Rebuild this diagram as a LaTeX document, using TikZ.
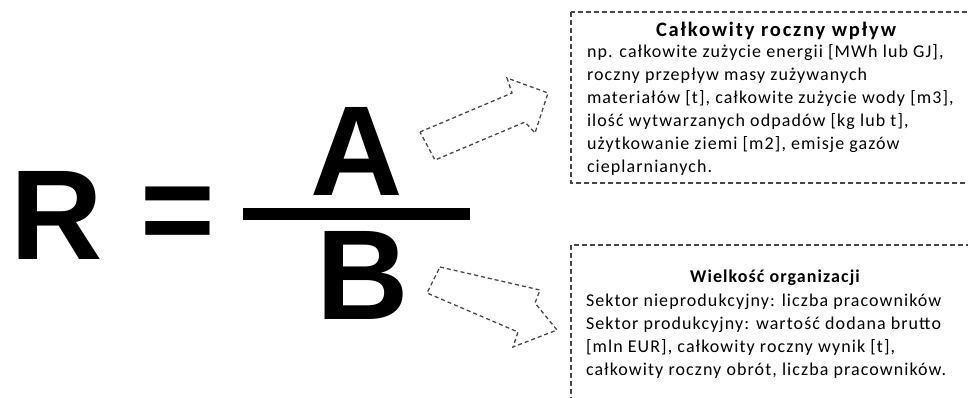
\documentclass[tikz,border=0pt]{standalone}
\usepackage{fontspec}
\setmainfont{Carlito}
\newfontfamily\boxfont[LetterSpace=6]{Carlito}
\newfontfamily\headfont[LetterSpace=9]{Carlito}
\newfontfamily\bigsans{Liberation Sans}
\usetikzlibrary{positioning}
\definecolor{dashGray}{HTML}{484848}

\begin{document}
\begin{tikzpicture}[
    x=1pt, y=-1pt,
    every node/.style={inner sep=0pt, outer sep=0pt},
    letter/.style={font=\bigsans\bfseries\fontsize{128}{128}\selectfont, anchor=base},
    dbox/.style={draw=dashGray, dash pattern=on 5pt off 3pt, line width=1.1pt},
    darrow/.style={draw=dashGray, dash pattern=on 4pt off 3pt, line width=1.3pt,
                   line join=miter},
    head/.style={font=\boxfont\bfseries\fontsize{18}{23}\selectfont, anchor=base},
    body/.style={font=\boxfont\fontsize{18}{23}\selectfont, align=left,
                 anchor=base west},
  ]
  \useasboundingbox (0,0) rectangle (968,398);
  \clip (0,0) rectangle (968,398);

  % Formula R = A / B
  \node[letter] (ratio) at (57,259) {R};
  \node[font=\bigsans\bfseries\fontsize{128}{128}\selectfont] (eq) at (178,220) {=};
  \node[letter] (num) at (357,196) {A};
  \node[letter] (den) at (363,319) {B};
  \draw[line width=12pt] (243,214) -- (470,214);

  % Top box - annual impact
  \draw[dbox] (571,12) rectangle (990,183);
  \node[head, font=\headfont\bfseries\fontsize{20.5}{23}\selectfont] (impact)
    at (776,37) {Całkowity roczny wpływ};
  \node[body] (impactex) at (587,172)
    {np. całkowite zużycie energii [MWh lub GJ],\\
     roczny przepływ masy zużywanych\\
     materiałów [t], całkowite zużycie wody [m3],\\
     ilość wytwarzanych odpadów [kg lub t],\\
     użytkowanie ziemi [m2], emisje gazów\\
     cieplarnianych.};

  % Bottom box - organisation size
  \draw[dbox] (571,410) -- (571,245) -- (990,245);
  \node[head] (size) at (775,282) {Wielkość organizacji};
  \node[body] (sizeex) at (586,375)
    {Sektor nieprodukcyjny: liczba pracowników\\
     Sektor produkcyjny: wartość dodana brutto\\
     {[mln EUR]}, całkowity roczny wynik [t],\\
     całkowity roczny obrót, liczba pracowników.};

  % Hollow dashed arrows
  \draw[darrow] (420,132) -- (512,93) -- (507,78) -- (548,93) -- (535,133)
    -- (525,122) -- (435,160) -- cycle;
  \draw[darrow] (440,267) -- (540,290) -- (535,303) -- (557,330) -- (513,347)
    -- (518,332) -- (427,293) -- cycle;
\end{tikzpicture}
\end{document}
